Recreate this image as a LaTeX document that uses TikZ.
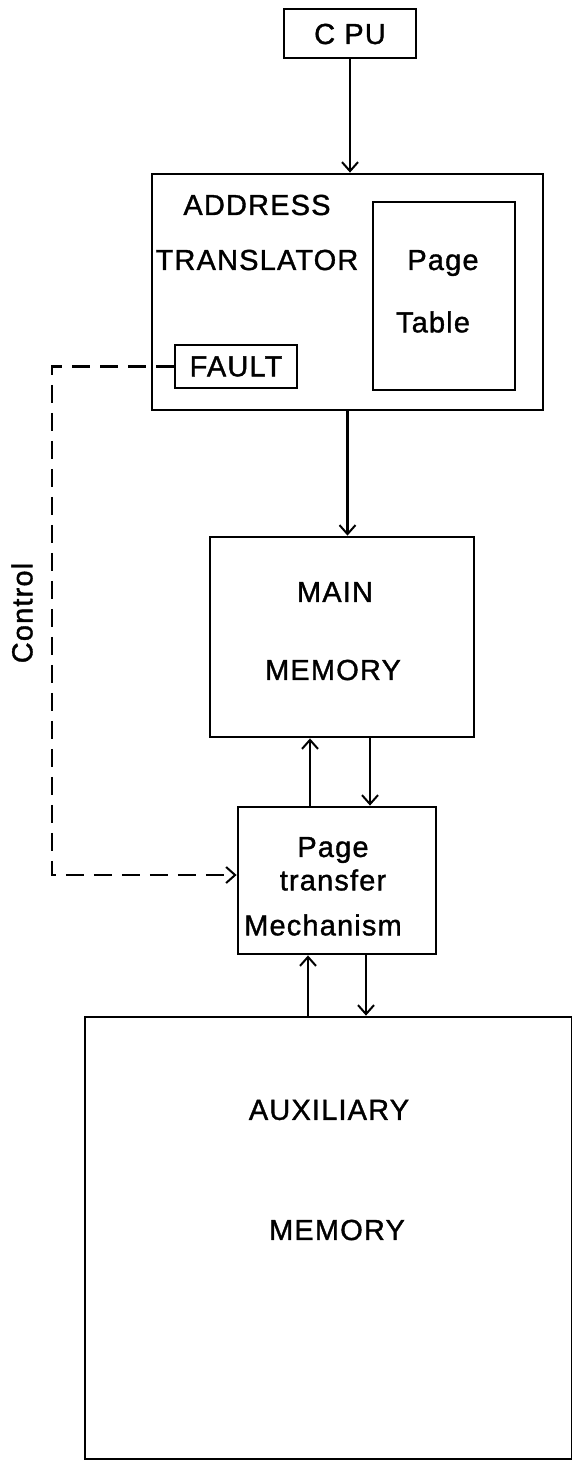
\documentclass[tikz,border=0pt]{standalone}
\usepackage{fontspec}
\setmainfont[LetterSpace=4, FakeBold=1.2]{Liberation Sans}
\usetikzlibrary{arrows.meta}

\tikzset{
  blk/.style={draw, line width=2.8pt, rectangle, inner sep=0pt, anchor=center},
  lbl/.style={inner sep=0pt, anchor=center, font=\fontsize{29}{33}\selectfont},
  flow/.style={line width=2.5pt, -{Straight Barb[length=9pt,width=16pt,line width=2pt]}},
  ctrl/.style={line width=2.5pt, dash pattern=on 18pt off 10pt,
               -{Straight Barb[length=9pt,width=16pt,line width=2pt]}}
}

\begin{document}
\begin{tikzpicture}[x=1pt, y=-1pt]
  \useasboundingbox (0,0) rectangle (572,1465);

  % blocks
  \node[blk, minimum width=132pt, minimum height=49pt]  (cpu)   at (350,33.5)  {};
  \node[blk, minimum width=391pt, minimum height=236pt] (addr)  at (347.5,292) {};
  \node[blk, minimum width=142pt, minimum height=188pt] (ptab)  at (444,296)   {};
  \node[blk, minimum width=122pt, minimum height=43pt]  (fault) at (236,366.5) {};
  \node[blk, minimum width=264pt, minimum height=200pt] (mm)    at (342,637)   {};
  \node[blk, minimum width=198pt, minimum height=147pt] (ptm)   at (337,880.5) {};
  \node[blk, minimum width=487pt, minimum height=442pt] (aux)   at (328.5,1238){};

  % labels
  \node[lbl] (tcpu)  at (350,34)   {C PU};
  \node[lbl] (tadr1) at (257,205)  {ADDRESS};
  \node[lbl] (tadr2) at (257,260)  {TRANSLATOR};
  \node[lbl] (tpt1)  at (443,263)  {Page};
  \node[lbl] (tpt2)  at (433,322)  {Table};
  \node[lbl] (tflt)  at (fault.center) {FAULT};
  \node[lbl] (tmm1)  at (335,592)  {MAIN};
  \node[lbl] (tmm2)  at (333,670)  {MEMORY};
  \node[lbl] (tpm1)  at (333,850)  {Page};
  \node[lbl] (tpm2)  at (333,880)  {transfer};
  \node[lbl] (tpm3)  at (323,925)  {Mechanism};
  \node[lbl] (tax1)  at (329,1110) {AUXILIARY};
  \node[lbl] (tax2)  at (337,1230) {MEMORY};
  \node[lbl, rotate=90] (tctl) at (22,613) {Control};

  % data paths
  \draw[flow] (cpu.south) -- (cpu.south |- addr.north);
  \draw[flow] (addr.south) -- (addr.south |- mm.north);

  \coordinate (mmU) at (310,0);
  \coordinate (mmD) at (370,0);
  \draw[flow] (mmU |- ptm.north) -- (mmU |- mm.south);
  \draw[flow] (mmD |- mm.south) -- (mmD |- ptm.north);

  \coordinate (axU) at (308,0);
  \coordinate (axD) at (366,0);
  \draw[flow] (axU |- aux.north) -- (axU |- ptm.south);
  \draw[flow] (axD |- ptm.south) -- (axD |- aux.north);

  % control path from the fault detector to the transfer mechanism
  \coordinate (c1) at (52,366.5);
  \coordinate (c2) at (52,875);
  \draw[ctrl] (fault.west) -- (c1) -- (c2) -- (c2 -| ptm.west);
\end{tikzpicture}
\end{document}
